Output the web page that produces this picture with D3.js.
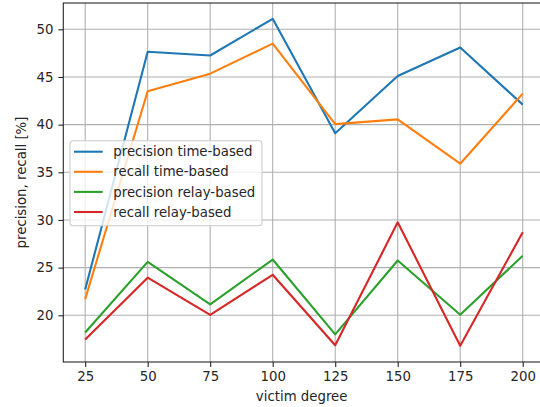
<!DOCTYPE html>
<html>
<head>
<meta charset="utf-8">
<script src="https://cdn.jsdelivr.net/npm/d3@7"></script>
<style>
  body { margin: 0; background: #fff; }
  text { font-family: "DejaVu Sans", sans-serif; }
</style>
</head>
<body>
<div id="container"></div>
<script>
/* DATA */
const degrees = [25, 50, 75, 100, 125, 150, 175, 200];
const precisionTime  = [22.7, 47.65, 47.25, 51.1, 39.1, 45.1, 48.1, 42.1];
const recallTime     = [21.7, 43.5, 45.35, 48.5, 40.05, 40.55, 35.9, 43.25];
const precisionRelay = [18.2, 25.6, 21.15, 25.85, 18.0, 25.75, 20.05, 26.25];
const recallRelay    = [17.45, 23.95, 20.05, 24.25, 16.85, 29.75, 16.8, 28.7];
const seriesNames = ["precision time-based", "recall time-based", "precision relay-based", "recall relay-based"];
const xTicks = [25, 50, 75, 100, 125, 150, 175, 200];
const yTicks = [20, 25, 30, 35, 40, 45, 50];

const series = [precisionTime, recallTime, precisionRelay, recallRelay];
const colors = ["#1f77b4", "#ff7f0e", "#2ca02c", "#d62728"];

/* CONSTANTS */
const W = 540, H = 407;
const margin = {top: 3, right: -4.6, bottom: 45, left: 63.3},
    width = W - margin.left - margin.right,
    height = H - margin.top - margin.bottom;

/* SCALES */
const xScale = d3.scaleLinear()
  .domain([16.25, 208.75])
  .range([0, width]);

const yScale = d3.scaleLinear()
  .domain([15.1, 52.76])
  .range([height, 0]);

/* SVG */
const root = d3.select("#container")
  .append("svg")
   .attr("width", W)
   .attr("height", H);

const svg = root.append("g")
  .attr("transform", "translate(" + margin.left + "," + margin.top + ")");

// grid
svg.append("g")
  .selectAll("line.vgrid")
  .data(xTicks)
  .join("line")
   .attr("x1", d => xScale(d)).attr("x2", d => xScale(d))
   .attr("y1", 0).attr("y2", height)
   .attr("stroke", "#b0b0b0").attr("stroke-width", 1.1);

svg.append("g")
  .selectAll("line.hgrid")
  .data(yTicks)
  .join("line")
   .attr("y1", d => yScale(d)).attr("y2", d => yScale(d))
   .attr("x1", 0).attr("x2", width)
   .attr("stroke", "#b0b0b0").attr("stroke-width", 1.1);

// lines
const line = d3.line()
  .x((d, i) => xScale(degrees[i]))
  .y(d => yScale(d));

svg.selectAll("path.series")
  .data(series)
  .join("path")
   .attr("class", "series")
   .attr("fill", "none")
   .attr("stroke", (d, i) => colors[i])
   .attr("stroke-width", 2.1)
   .attr("stroke-linejoin", "round")
   .attr("d", line);

// axes
const xAxisGroup = svg.append("g")
  .attr("transform", "translate(0," + height + ")")
  .call(d3.axisBottom(xScale).tickValues(xTicks).tickSize(4.9).tickPadding(4.9));

const yAxisGroup = svg.append("g")
  .call(d3.axisLeft(yScale).tickValues(yTicks).tickSize(4.9).tickPadding(4.9));

[xAxisGroup, yAxisGroup].forEach(g => {
  g.select(".domain").remove();
  g.selectAll("text").attr("font-size", 13.3).attr("fill", "#262626")
   .attr("font-family", "DejaVu Sans, sans-serif");
  g.selectAll("line").attr("stroke", "#262626").attr("stroke-width", 1.1);
});

// spines
svg.append("rect")
  .attr("x", 0).attr("y", 0)
  .attr("width", width).attr("height", height)
  .attr("fill", "none")
  .attr("stroke", "#262626")
  .attr("stroke-width", 1.1);

// labels
svg.append("text")
  .attr("x", width / 2 - 2.3)
  .attr("y", height + 39)
  .attr("text-anchor", "middle")
  .attr("font-size", 13.3)
  .attr("fill", "#262626")
  .text("victim degree");

svg.append("text")
  .attr("transform", "translate(" + (-37) + "," + (height / 2) + ") rotate(-90)")
  .attr("text-anchor", "middle")
  .attr("font-size", 13.3)
  .attr("fill", "#262626")
  .text("precision, recall [%]");

// legend
const legend = root.append("g")
  .attr("transform", "translate(70,140.7)");

legend.append("rect")
  .attr("width", 192).attr("height", 85)
  .attr("rx", 3)
  .attr("fill", "white").attr("fill-opacity", 0.8)
  .attr("stroke", "#cccccc").attr("stroke-width", 1.1);

const items = legend.selectAll("g.item")
  .data(seriesNames)
  .join("g")
   .attr("class", "item")
   .attr("transform", (d, i) => "translate(0," + (11 + i * 20.1) + ")");

items.append("line")
  .attr("x1", 4).attr("x2", 32.7)
  .attr("stroke", (d, i) => colors[i])
  .attr("stroke-width", 2.1);

items.append("text")
  .attr("x", 43.3)
  .attr("dy", "0.35em")
  .attr("font-size", 13.3)
  .attr("fill", "#262626")
  .text(d => d);
</script>
</body>
</html>
